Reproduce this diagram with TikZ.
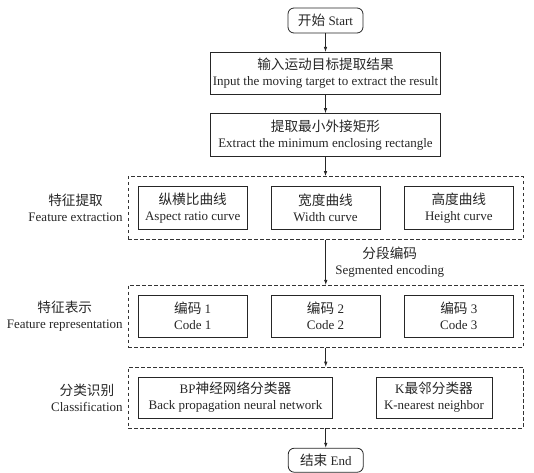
\documentclass[tikz,border=0pt]{standalone}
\usepackage{fontspec}
\setmainfont{Liberation Serif}
\newfontfamily\zhfont{Noto Sans CJK SC}[Scale=1.05]
\newcommand{\zh}[1]{{\zhfont #1}}
\usetikzlibrary{arrows.meta, positioning, fit}

\begin{document}
\begin{tikzpicture}[
    x=1pt, y=1pt,
    node distance=18.5pt and 23pt,
    font=\fontsize{13}{16}\selectfont,
    box/.style={rectangle, draw=black!85, line width=0.8pt, minimum width=109pt, minimum height=43pt, align=center, inner sep=2pt, text=black!85},
    term/.style={rectangle, rounded corners=6pt, draw=black!85, line width=0.8pt, minimum width=75pt, minimum height=25pt, inner sep=2pt, text=black!85},
    group/.style={rectangle, draw=black!80, line width=0.8pt, dash pattern=on 3.5pt off 2.5pt, inner sep=9.5pt},
    tag/.style={align=center, inner sep=0pt, text=black!85},
    arr/.style={-{Latex[length=5pt, width=3.5pt]}, line width=0.7pt, black!85}]
\useasboundingbox (0,0) rectangle (534,-472);
\node[term] (start) at (325.5,-20.5) {\zh{开始} Start};
\node[box, minimum width=230pt, minimum height=42pt, below=of start] (input) {\zh{输入运动目标提取结果}\\Input the moving target to extract the result};
\node[box, minimum width=230pt, below=of input] (rect) {\zh{提取最小外接矩形}\\Extract the minimum enclosing rectangle};
% feature extraction
\node[box, below=29pt of rect] (width) {\zh{宽度曲线}\\Width curve};
\node[box, left=of width] (aspect) {\zh{纵横比曲线}\\Aspect ratio curve};
\node[box, right=23.5pt of width] (height) {\zh{高度曲线}\\Height curve};
\node[group, fit=(aspect)(height)] (extract) {};
\node[tag, left=5pt of extract.west] (tagextract) {\zh{特征提取}\\Feature extraction};
% feature representation
\node[box, minimum height=42pt, below=65pt of width] (code2) {\zh{编码} 2\\Code 2};
\node[box, minimum height=42pt, left=of code2] (code1) {\zh{编码} 1\\Code 1};
\node[box, minimum height=42pt, right=23.5pt of code2] (code3) {\zh{编码} 3\\Code 3};
\node[group, fit=(code1)(code3)] (represent) {};
\node[tag, left=5pt of represent.west] (tagrepresent) {\zh{特征表示}\\Feature representation};
% classification
\node[box, minimum width=194.5pt, minimum height=41pt, below right=39pt and 0pt of code1.south west] (bp) {BP\zh{神经网络分类器}\\Back propagation neural network};
\node[box, minimum width=116pt, minimum height=41pt, right=42.5pt of bp] (knn) {K\zh{最邻分类器}\\K-nearest neighbor};
\node[group, fit=(bp)(knn)(bp -| code3.east)] (classify) {};
\node[tag, left=5pt of classify.west] (tagclassify) {\zh{分类识别}\\Classification};
\node[term, minimum height=24pt, below=19.5pt of classify] (end) {\zh{结束} End};
\foreach \from/\to in {start/input, input/rect, rect/extract, represent/classify, classify/end}
    \draw[arr] (\from.south) -- (\from.south |- \to.north);
\draw[arr] (extract.south) -- node[right=6pt, align=center, text=black!85] (seglabel) {\zh{分段编码}\\Segmented encoding} (extract.south |- represent.north);
\end{tikzpicture}
\end{document}
